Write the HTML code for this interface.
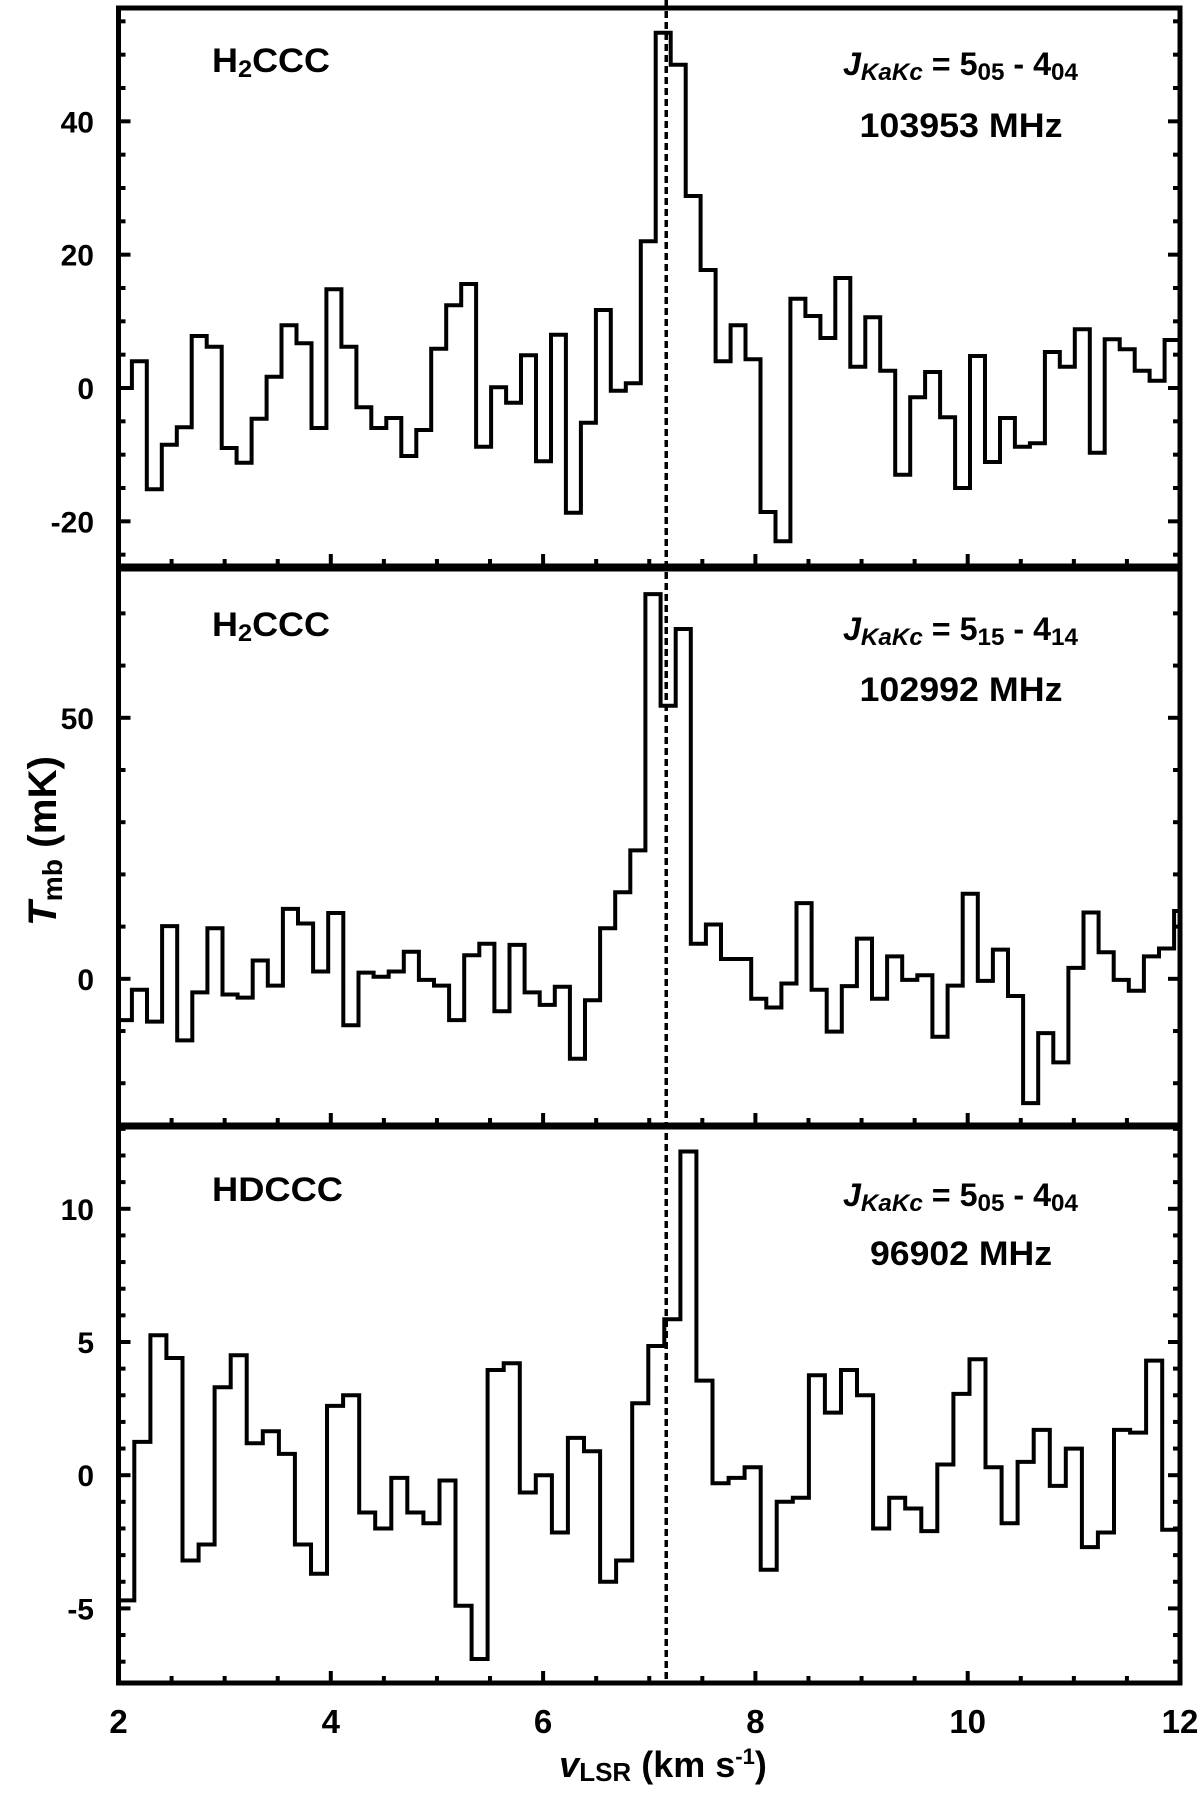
<!DOCTYPE html>
<html><head><meta charset="utf-8"><style>
html,body{margin:0;padding:0;background:#fff;}
svg{display:block;font-family:"Liberation Sans",Arial,sans-serif;font-weight:bold;}
</style></head><body>
<svg id="chart" width="1200" height="1798" viewBox="0 0 1200 1798" xmlns="http://www.w3.org/2000/svg"></svg>
<script>
// ---- data ----
const p1Values = [0,4,-15.2,-8.5,-5.9,7.8,6.2,-9,-11.2,-4.6,1.7,9.4,6.7,-6,14.8,6.2,-2.9,-6,-4.5,-10.2,-6.3,5.9,12.4,15.6,-8.8,0.1,-2.2,4.9,-11,8,-18.7,-5.2,11.7,-0.4,0.7,22,53.3,48.5,28.8,17.7,4,9.4,4.3,-18.6,-23,13.4,10.8,7.5,16.5,3.2,10.6,2.6,-13,-1.4,2.4,-4.4,-15,4.8,-11.1,-4.5,-8.8,-8.3,5.4,3.2,8.8,-9.7,7.3,5.8,2.6,1.1,7.2];
const p2Values = [-7.9,-2.1,-8.2,10.1,-11.8,-2.6,9.7,-3.0,-3.6,3.5,-1.3,13.4,10.6,1.4,12.6,-8.9,1.2,0.4,1.4,5.2,-0.2,-1.3,-7.9,4.5,6.7,-6.2,6.5,-2.6,-5.0,-1.5,-15.3,-4.1,9.7,16.6,24.6,73.7,52.3,67,6.7,10.4,3.8,3.8,-3.8,-5.5,-0.9,14.5,-2.1,-10.1,-1.4,7.7,-3.8,4.3,-0.2,0.7,-11.1,-1.3,16.3,-0.4,5.6,-3.3,-23.8,-10.4,-16,2.1,12.7,5.1,-0.2,-2.3,4.3,5.8,13];
const p3Values = [-4.7,1.25,5.25,4.4,-3.2,-2.6,3.3,4.5,1.2,1.65,0.8,-2.6,-3.7,2.6,3.0,-1.4,-2.0,-0.1,-1.4,-1.8,-0.2,-4.9,-6.9,3.95,4.2,-0.65,0,-2.15,1.4,0.9,-4.0,-3.2,2.7,4.85,5.85,12.15,3.55,-0.3,-0.1,0.3,-3.55,-1.0,-0.85,3.75,2.35,3.95,3.0,-2.0,-0.85,-1.25,-2.1,0.4,3.05,4.35,0.3,-1.8,0.5,1.7,-0.4,1.0,-2.7,-2.15,1.7,1.6,4.3,-2.05];
const channelStart = [2.126, 2.126, 2.149];   // km/s of first full channel edge
const channelWidth = [0.141, 0.1423, 0.1513]; // km/s
const xTickLabels = [2,4,6,8,10,12];
const p1YTicks = [-20,0,20,40];
const p2YTicks = [0,50];
const p3YTicks = [-5,0,5,10];
const p1YRange = [-26.7,57];
const p2YRange = [-28,78.5];
const p3YRange = [-7.8,13.07];
const xRange = [2,12];
const systemicVelocity = 7.16;

// ---- layout ----
const NS = "http://www.w3.org/2000/svg";
const svg = document.getElementById('chart');
const L = 118.5, R = 1180;
const panels = [
  {top:8, bot:566, vals:p1Values, yr:p1YRange, ticks:p1YTicks, minor:5, sub:true, mol:"H2CCC", molDy:64, molW:118, jDy:67, fDy:129, jA:"05", jB:"04", freq:"103953 MHz", name:"h2ccc-505"},
  {top:569, bot:1125, vals:p2Values, yr:p2YRange, ticks:p2YTicks, minor:10, sub:true, mol:"H2CCC", molDy:67, molW:118, jDy:71, fDy:132, jA:"15", jB:"14", freq:"102992 MHz", name:"h2ccc-515"},
  {top:1127, bot:1683, vals:p3Values, yr:p3YRange, ticks:p3YTicks, minor:1, sub:false, mol:"HDCCC", molDy:74, molW:131, jDy:79, fDy:138, jA:"05", jB:"04", freq:"96902 MHz", name:"hdccc-505"}
];
function xs(v){ return L + (v - xRange[0]) / (xRange[1] - xRange[0]) * (R - L); }
function mk(tag, attrs, parent){
  const e = document.createElementNS(NS, tag);
  for (const k in attrs) e.setAttribute(k, attrs[k]);
  (parent || svg).appendChild(e);
  return e;
}

panels.forEach((p, pi) => {
  const ys = v => p.bot - (v - p.yr[0]) / (p.yr[1] - p.yr[0]) * (p.bot - p.top);
  const g = mk('g', {});
  
  
  const cp = mk('clipPath', {id:'clip' + pi}, g);
  mk('rect', {x:L, y:p.top, width:R-L, height:p.bot-p.top}, cp);

  const st = channelStart[pi], dw = channelWidth[pi];
  let d = '';
  p.vals.forEach((val, i) => {
    const a = Math.max(xRange[0], st + (i - 1) * dw);
    const b = Math.min(xRange[1], st + i * dw);
    const y = ys(val).toFixed(1);
    if (i === 0) d += 'M' + xs(a).toFixed(1) + ' ' + y;
    else d += 'V' + y;
    d += 'H' + xs(b).toFixed(1);
  });
  const path = mk('path', {d:d, fill:'none', stroke:'#000', 'stroke-width':4, 'clip-path':'url(#clip' + pi + ')'}, g);
  
  

  const fr = mk('rect', {x:L, y:p.top, width:R-L, height:p.bot-p.top, fill:'none', stroke:'#000', 'stroke-width':5}, g);
  
  

  for (let v = Math.ceil(p.yr[0] / p.minor) * p.minor; v <= p.yr[1]; v += p.minor) {
    const isMajor = p.ticks.indexOf(v) >= 0;
    const len = isMajor ? 12 : 7;
    const y = ys(v);
    mk('line', {x1:L, x2:L + len, y1:y, y2:y, stroke:'#000', 'stroke-width':4}, g);
    mk('line', {x1:R, x2:R - len, y1:y, y2:y, stroke:'#000', 'stroke-width':4}, g);
  }
  p.ticks.forEach(v => {
    const t = mk('text', {x:94, y:ys(v) + 11, 'text-anchor':'end', 'font-size':30}, g);
    t.textContent = String(v);
    
    
  });
  for (let v = xRange[0]; v <= xRange[1] + 1e-9; v += 0.5) {
    const isMajor = Math.abs(v - Math.round(v / 2) * 2) < 1e-6;
    const x = xs(v);
    mk('line', {x1:x, x2:x, y1:p.bot, y2:p.bot - (isMajor ? 12 : 7), stroke:'#000', 'stroke-width':4}, g);
  }

  const m = mk('text', {x:212, y:p.top + p.molDy, 'font-size':34, textLength:p.molW, lengthAdjust:'spacingAndGlyphs'}, g);
  
  
  if (p.sub) m.innerHTML = 'H<tspan font-size="24" dy="5">2</tspan><tspan dy="-5">CCC</tspan>';
  else m.textContent = p.mol;

  const j = mk('text', {x:843, y:p.top + p.jDy, 'font-size':32, textLength:235, lengthAdjust:'spacingAndGlyphs'}, g);
  
  
  j.innerHTML = '<tspan font-style="italic">J</tspan><tspan font-style="italic" font-size="24" dy="5">KaKc</tspan><tspan dy="-5"> = 5</tspan><tspan font-size="24" dy="5">' + p.jA + '</tspan><tspan dy="-5"> - 4</tspan><tspan font-size="24" dy="5">' + p.jB + '</tspan>';
  const f = mk('text', {x:961, y:p.top + p.fDy, 'text-anchor':'middle', 'font-size':34, textLength:(p.freq.length === 10 ? 203 : 182), lengthAdjust:'spacingAndGlyphs'}, g);
  f.textContent = p.freq;
  
  
});

const dl = mk('line', {x1:xs(systemicVelocity), x2:xs(systemicVelocity), y1:0, y2:1683, stroke:'#000', 'stroke-width':3.5, 'stroke-dasharray':'7 4'});



xTickLabels.forEach(v => {
  const t = mk('text', {x:xs(v), y:1733, 'text-anchor':'middle', 'font-size':33});
  t.textContent = String(v);
  
  
});
const xt = mk('text', {x:663, y:1777, 'text-anchor':'middle', 'font-size':36});


xt.innerHTML = '<tspan font-style="italic">v</tspan><tspan font-size="26" dy="4">LSR</tspan><tspan dy="-4"> (km  s</tspan><tspan font-size="22" dy="-13">-1</tspan><tspan dy="13">)</tspan>';
const yt = mk('text', {x:0, y:0, 'text-anchor':'middle', 'font-size':40, textLength:170, lengthAdjust:'spacingAndGlyphs', transform:'translate(56,841) rotate(-90)'});


yt.innerHTML = '<tspan font-style="italic">T</tspan><tspan font-size="28" dy="6">mb</tspan><tspan dy="-6"> (mK)</tspan>';
</script>
</body></html>
